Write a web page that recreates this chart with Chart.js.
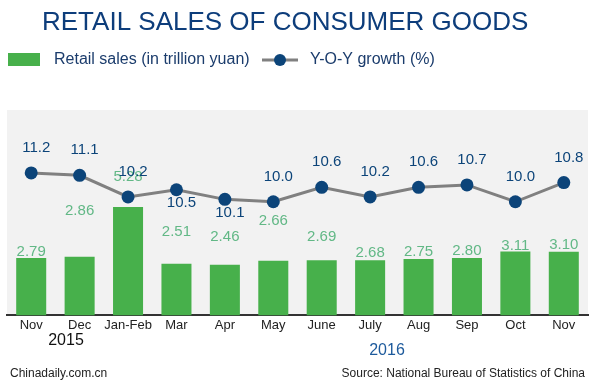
<!DOCTYPE html>
<html>
<head>
<meta charset="utf-8">
<script src="https://cdn.jsdelivr.net/npm/chart.js@4"></script>
<style>
  body { margin: 0; background: #fff; }
  canvas { display: block; }
</style>
</head>
<body>
<canvas id="retailChart" width="600" height="387"></canvas>
<script>
const categories = ['Nov', 'Dec', 'Jan-Feb', 'Mar', 'Apr', 'May', 'June', 'July', 'Aug', 'Sep', 'Oct', 'Nov'];
const retailSales = [2.79, 2.86, 5.28, 2.51, 2.46, 2.66, 2.69, 2.68, 2.75, 2.80, 3.11, 3.10];
const yoyGrowth = [11.2, 11.1, 10.2, 10.5, 10.1, 10.0, 10.6, 10.2, 10.6, 10.7, 10.0, 10.8];

const FONT = '"Liberation Sans", Arial, Helvetica, sans-serif';
const BLUE = '#0c4479';
const GREEN = '#47b04b';
const LABEL_GREEN = '#62b886';

// labels, legend, titles and footer
const decor = {
  id: 'decor',
  beforeDraw(chart) {
    const { ctx, chartArea: a } = chart;
    ctx.save();
    ctx.fillStyle = '#f2f2f2';
    ctx.fillRect(a.left, a.top, a.right - a.left, a.bottom - a.top);
    ctx.restore();
  },
  afterDatasetsDraw(chart, args, opts) {
    const ctx = chart.ctx;
    const bars = chart.getDatasetMeta(0).data;
    const points = chart.getDatasetMeta(1).data;
    ctx.save();
    ctx.font = '15px ' + FONT;
    ctx.textAlign = 'center';
    ctx.textBaseline = 'middle';

    // bar values
    ctx.fillStyle = LABEL_GREEN;
    bars.forEach((bar, i) => {
      ctx.fillText(retailSales[i].toFixed(2), bar.x, bar.y - opts.barLift[i]);
    });

    // growth values
    ctx.fillStyle = BLUE;
    points.forEach((pt, i) => {
      const below = opts.growthBelow.includes(i);
      ctx.fillText(yoyGrowth[i].toFixed(1), pt.x + 5, below ? pt.y + 13 : pt.y - 25);
    });
    ctx.restore();
  },
  afterDraw(chart) {
    const ctx = chart.ctx;
    ctx.save();
    ctx.textBaseline = 'middle';

    // title
    ctx.fillStyle = '#0d3d7b';
    ctx.font = '26px ' + FONT;
    ctx.textAlign = 'left';
    ctx.fillText('RETAIL SALES OF CONSUMER GOODS', 42, 23);

    // legend
    ctx.fillStyle = GREEN;
    ctx.fillRect(8, 53, 32, 13);
    ctx.fillStyle = '#1b3c6c';
    ctx.font = '16px ' + FONT;
    ctx.fillText('Retail sales (in trillion yuan)', 54, 60);
    ctx.strokeStyle = '#808080';
    ctx.lineWidth = 3;
    ctx.beginPath();
    ctx.moveTo(262, 60);
    ctx.lineTo(298, 60);
    ctx.stroke();
    ctx.fillStyle = BLUE;
    ctx.beginPath();
    ctx.arc(280, 60, 6, 0, Math.PI * 2);
    ctx.fill();
    ctx.fillStyle = '#1b3c6c';
    ctx.fillText('Y-O-Y growth (%)', 310, 60);

    // years
    ctx.textAlign = 'center';
    ctx.font = '16px ' + FONT;
    ctx.fillStyle = '#111';
    ctx.fillText('2015', 66, 341);
    ctx.fillStyle = '#1d5a9c';
    ctx.fillText('2016', 387, 351);

    // footer
    ctx.font = '12px ' + FONT;
    ctx.fillStyle = '#222';
    ctx.textAlign = 'left';
    ctx.fillText('Chinadaily.com.cn', 10, 374);
    ctx.textAlign = 'right';
    ctx.fillText('Source: National Bureau of Statistics of China', 585, 374);
    ctx.restore();
  }
};

new Chart(document.getElementById('retailChart'), {
  type: 'bar',
  data: {
    labels: categories,
    datasets: [
      {
        label: 'Retail sales (in trillion yuan)',
        data: retailSales,
        backgroundColor: GREEN,
        barPercentage: 0.62,
        categoryPercentage: 1,
        yAxisID: 'y',
        order: 2
      },
      {
        label: 'Y-O-Y growth (%)',
        type: 'line',
        data: yoyGrowth,
        borderColor: '#808080',
        borderWidth: 3,
        pointRadius: 6.5,
        pointBackgroundColor: BLUE,
        pointBorderColor: BLUE,
        pointBorderWidth: 0,
        tension: 0,
        yAxisID: 'y1',
        order: 1
      }
    ]
  },
  options: {
    responsive: false,
    animation: false,
    layout: { padding: { top: 110, left: 7, right: 12, bottom: 52 } },
    plugins: {
      legend: { display: false },
      title: { display: false },
      tooltip: { enabled: false },
      decor: {
        barLift: [6.5, 46, 30, 32, 28, 40, 23, 7, 7, 7, 6, 6.5],
        growthBelow: [3, 4]
      }
    },
    scales: {
      x: {
        grid: { display: false, drawTicks: false },
        border: { color: '#333', width: 2 },
        ticks: { color: '#222', font: { size: 13, family: FONT }, padding: 2, maxRotation: 0, autoSkip: false }
      },
      y: { display: false, min: 0, max: 10 },
      y1: { display: false, min: 5.27, max: 13.82 }
    }
  },
  plugins: [decor]
});
</script>
</body>
</html>
